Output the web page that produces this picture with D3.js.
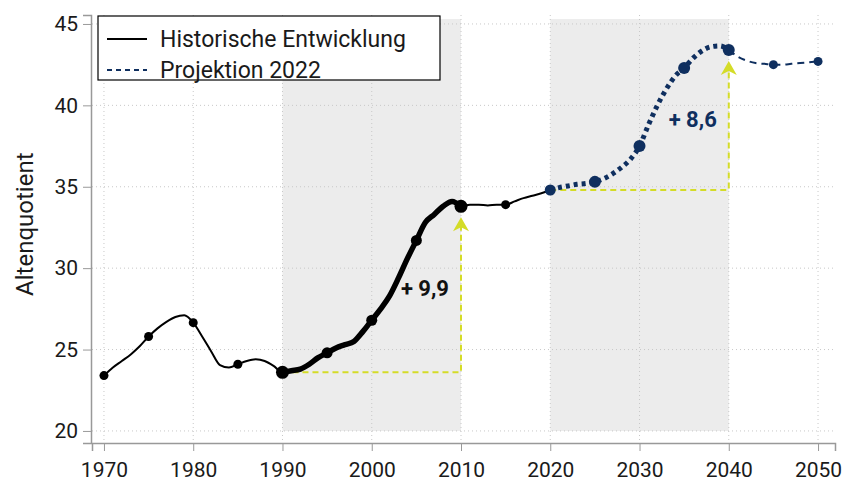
<!DOCTYPE html>
<meta charset="utf-8">
<style>
    body { margin: 0; background: #fff; }
    .container { width: 844px; height: 482px; }
    text { font-family: Roboto, "DejaVu Sans Condensed", sans-serif; fill: #1a1a1a; }
</style>
<body>
<div class="container"></div>
<script src="https://cdn.jsdelivr.net/npm/d3@7"></script>
<script>

// historische Entwicklung, jährlich
const histYears = d3.range(1970, 2021);
const histValues = [
    23.4, 23.9, 24.3, 24.7, 25.2, 25.8, 26.3, 26.7, 27.0, 27.1,
    26.65, 25.8, 24.9, 24.05, 23.9, 24.1, 24.3, 24.4, 24.3, 24.0,
    23.6, 23.7, 23.8, 24.1, 24.5, 24.8, 25.1, 25.3, 25.5, 26.1,
    26.8, 27.5, 28.3, 29.4, 30.6, 31.7, 32.8, 33.3, 33.8, 34.1,
    33.8, 33.9, 33.9, 33.85, 33.9, 33.9, 34.1, 34.3, 34.45, 34.6,
    34.8
];

// Projektion 2022
const projYears = d3.range(2020, 2051);
const projValues = [
    34.8, 34.95, 35.05, 35.15, 35.2, 35.3, 35.5, 35.8, 36.2, 36.7,
    37.5, 38.8, 40.0, 41.0, 41.8, 42.3, 42.9, 43.35, 43.6, 43.65,
    43.4, 43.0, 42.75, 42.6, 42.55, 42.5, 42.5, 42.55, 42.6, 42.65,
    42.7
];

const markerYears = [1970, 1975, 1980, 1985, 1990, 1995, 2000, 2005, 2010, 2015, 2020];
const projMarkerYears = [2020, 2025, 2030, 2035, 2040, 2045, 2050];

const periods = [[1990, 2010], [2020, 2040]];
const changes = [
    { from: 1990, to: 2010, label: '+ 9,9', color: '#111' },
    { from: 2020, to: 2040, label: '+ 8,6', color: '#0f2f5f' }
];

const xTicks = d3.range(1970, 2051, 10);
const yTicks = [20, 25, 30, 35, 40, 45];

const width = 844, height = 482;
const navy = '#0f2f5f';
const yellow = '#d4dc28';

const svg = d3.select('.container').append('svg')
    .attr('width', width).attr('height', height);

const x = d3.scaleLinear().domain([1968.66, 2051.9]).range([92, 835]);
const y = d3.scaleLinear().domain([19.26, 45.55]).range([443, 15]);

const hist = histYears.map((d, i) => ({ year: d, v: histValues[i] }));
const proj = projYears.map((d, i) => ({ year: d, v: projValues[i] }));
const histAt = yr => hist.find(d => d.year === yr).v;
const projAt = yr => proj.find(d => d.year === yr).v;

// shaded periods
svg.selectAll('rect.period').data(periods).enter().append('rect')
    .attr('class', 'period')
    .attr('x', d => x(d[0]))
    .attr('width', d => x(d[1]) - x(d[0]))
    .attr('y', y(45.3))
    .attr('height', y(20) - y(45.3))
    .style('fill', '#ececec');

// grid
svg.selectAll('line.vgrid').data(xTicks).enter().append('line')
    .attr('x1', d => x(d)).attr('x2', d => x(d))
    .attr('y1', 15).attr('y2', 443)
    .style('stroke', '#c8c8c8').style('stroke-dasharray', '1,3');
svg.selectAll('line.hgrid').data(yTicks).enter().append('line')
    .attr('x1', 92).attr('x2', 835)
    .attr('y1', d => y(d)).attr('y2', d => y(d))
    .style('stroke', '#c8c8c8').style('stroke-dasharray', '1,3');

// axes
const xAxis = svg.append('g').attr('transform', 'translate(0,443)')
    .call(d3.axisBottom(x).tickValues(xTicks).tickFormat(d3.format('d')).tickSize(8).tickPadding(11));
const yAxis = svg.append('g').attr('transform', 'translate(91,0)')
    .call(d3.axisLeft(y).tickValues(yTicks).tickSize(8).tickPadding(5));
[xAxis, yAxis].forEach(a => {
    a.select('.domain').style('stroke', '#999').style('stroke-width', 1.5);
    a.selectAll('.tick line').style('stroke', '#999');
    a.selectAll('.tick text').style('font-size', '21px').style('fill', '#1a1a1a')
        .style('font-family', 'Roboto, sans-serif');
});

svg.append('text')
    .attr('transform', `translate(33,${y(32.7)}) rotate(-90)`)
    .attr('text-anchor', 'middle')
    .style('font-size', '24px')
    .text('Altenquotient');

// yellow change markers
changes.forEach(c => {
    const y0 = c.from === 1990 ? histAt(c.from) : projAt(c.from);
    const y1 = c.to === 2010 ? histAt(c.to) : projAt(c.to);
    const tipY = y(y1) + 11;
    svg.append('path')
        .attr('d', `M${x(c.from)},${y(y0)}H${x(c.to)}V${tipY + 8}`)
        .style('fill', 'none').style('stroke', yellow).style('stroke-width', 2)
        .style('stroke-dasharray', '6,4');
    svg.append('path')
        .attr('d', `M${x(c.to)},${tipY}l-8,14l8,-4l8,4z`)
        .style('fill', yellow);
    svg.append('text')
        .attr('x', x(c.to) - 12).attr('y', y((y0 + y1) / 2) + 7)
        .attr('text-anchor', 'end')
        .style('font-size', '22px').style('font-weight', 'bold')
        .style('fill', c.color)
        .text(c.label);
});

const line = d3.line().x(d => x(d.year)).y(d => y(d.v)).curve(d3.curveMonotoneX);

// historische Linie
svg.append('path').datum(hist).attr('d', line)
    .style('fill', 'none').style('stroke', '#000').style('stroke-width', 2);
svg.append('path').datum(hist.filter(d => d.year >= 1990 && d.year <= 2010)).attr('d', line)
    .style('fill', 'none').style('stroke', '#000').style('stroke-width', 5.5)
    .style('stroke-linejoin', 'round');

// Projektion
svg.append('path').datum(proj.filter(d => d.year <= 2040)).attr('d', line)
    .style('fill', 'none').style('stroke', navy).style('stroke-width', 5)
    .style('stroke-dasharray', '4,4');
svg.append('path').datum(proj.filter(d => d.year >= 2040)).attr('d', line)
    .style('fill', 'none').style('stroke', navy).style('stroke-width', 2)
    .style('stroke-dasharray', '7,5');

// markers
const histR = yr => (yr === 1990 || yr === 2010) ? 6.5 : (yr > 1990 && yr < 2010 ? 5.5 : 4.5);
svg.selectAll('circle.hist').data(markerYears).enter().append('circle')
    .attr('cx', d => x(d)).attr('cy', d => y(histAt(d)))
    .attr('r', histR).style('fill', '#000');

const projR = yr => yr === 2020 ? 5.5 : (yr <= 2040 ? 6 : 4.5);
svg.selectAll('circle.proj').data(projMarkerYears).enter().append('circle')
    .attr('cx', d => x(d)).attr('cy', d => y(projAt(d)))
    .attr('r', projR).style('fill', navy);

// legend
const lg = svg.append('g');
lg.append('rect').attr('x', 98).attr('y', 16).attr('width', 342).attr('height', 64)
    .style('fill', '#fff').style('stroke', '#000').style('stroke-width', 1.2);
lg.append('line').attr('x1', 107).attr('x2', 147).attr('y1', 39).attr('y2', 39)
    .style('stroke', '#000').style('stroke-width', 1.8);
lg.append('line').attr('x1', 107).attr('x2', 147).attr('y1', 70).attr('y2', 70)
    .style('stroke', navy).style('stroke-width', 1.8).style('stroke-dasharray', '5,4');
lg.append('text').attr('x', 160).attr('y', 47).style('font-size', '23px').text('Historische Entwicklung');
lg.append('text').attr('x', 160).attr('y', 78).style('font-size', '23px').text('Projektion 2022');

</script>
</body>
